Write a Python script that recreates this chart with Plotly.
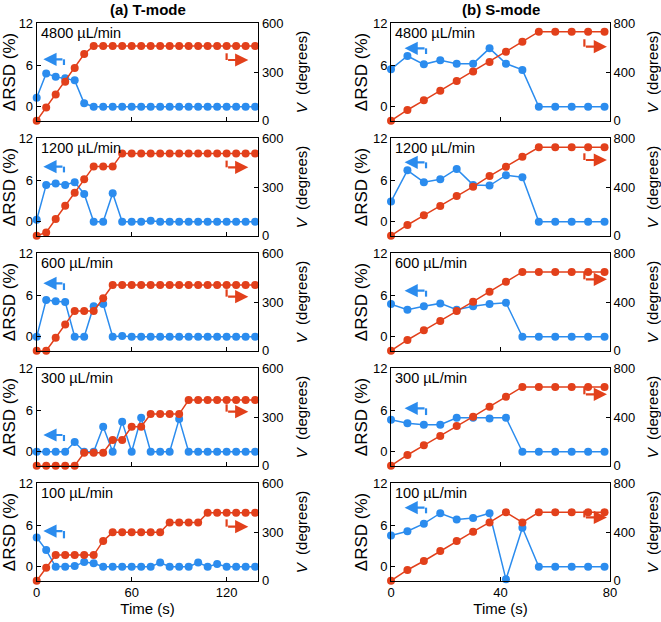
import plotly.graph_objects as go

# ---------------- data ----------------
T_TIME = [0, 6, 12, 18, 24, 30, 36, 42, 48, 54, 60, 66, 72, 78, 84, 90, 96, 102, 108, 114, 120, 126, 132, 138]
S_TIME = [0, 6, 12, 18, 24, 30, 36, 42, 48, 54, 60, 66, 72, 78]

FLOW_LABELS = ["4800 µL/min", "1200 µL/min", "600 µL/min", "300 µL/min", "100 µL/min"]

# T-mode
T4800_RSD = [1.3, 4.8, 4.3, 4.1, 3.8, 0.5, 0, 0, 0, 0, 0, 0, 0, 0, 0, 0, 0, 0, 0, 0, 0, 0, 0, 0]
T4800_V = [0, 82, 162, 240, 325, 411, 460, 460, 460, 460, 460, 460, 460, 460, 460, 460, 460, 460, 460, 460, 460, 460, 460, 460]
T1200_RSD = [0.3, 5.3, 5.5, 5.3, 5.7, 4.0, 0, 0, 4.1, 0, 0, 0, 0.15, 0, 0, 0, 0, 0, 0, 0, 0, 0, 0, 0]
T1200_V = [0, 20, 103, 185, 265, 347, 427, 427, 427, 507, 507, 507, 507, 507, 507, 507, 507, 507, 507, 507, 507, 507, 507, 507]
T600_RSD = [0, 5.3, 5.1, 5.0, 0, 0, 4.4, 4.7, 0, 0.1, 0, 0, 0, 0, 0, 0, 0, 0, 0, 0, 0, 0, 0, 0]
T600_V = [0, 0, 80, 162, 245, 245, 245, 323, 405, 405, 405, 405, 405, 405, 405, 405, 405, 405, 405, 405, 405, 405, 405, 405]
T300_RSD = [0, 0, 0, 0, 1.4, 0, 0, 3.6, 0, 4.3, 0, 4.9, 0, 0, 0, 4.7, 0, 0, 0, 0, 0, 0, 0, 0]
T300_V = [0, 0, 0, 0, 0, 80, 80, 80, 158, 158, 240, 240, 318, 318, 318, 318, 405, 405, 405, 405, 405, 405, 405, 405]
T100_RSD = [4.2, 2.4, 0, 0, 0.1, 0.7, 0.5, 0, 0, 0, 0, 0, 0, 0.6, 0, 0, 0, 0.6, 0, 0.4, 0, 0, 0, 0]
T100_V = [0, 80, 158, 158, 158, 158, 158, 245, 298, 298, 298, 298, 298, 298, 358, 358, 358, 358, 419, 419, 419, 419, 419, 419]

# S-mode
S4800_RSD = [5.4, 7.3, 6.1, 6.7, 6.2, 6.2, 8.4, 6.2, 5.3, 0, 0, 0, 0, 0]
S4800_V = [0, 88, 167, 247, 326, 405, 482, 567, 649, 731, 731, 731, 731, 731]
S1200_RSD = [2.9, 7.4, 5.7, 6.1, 7.6, 5.3, 5.2, 6.7, 6.4, 0, 0, 0, 0, 0]
S1200_V = [0, 88, 167, 244, 326, 403, 490, 567, 649, 726, 726, 726, 726, 726]
S600_RSD = [4.7, 3.9, 4.4, 4.8, 3.9, 4.4, 4.7, 4.9, 0, 0, 0, 0, 0, 0]
S600_V = [0, 88, 167, 244, 326, 403, 485, 567, 647, 647, 647, 647, 647, 647]
S300_RSD = [4.6, 4.1, 3.9, 3.9, 4.9, 4.9, 4.8, 4.9, 0, 0, 0, 0, 0, 0]
S300_V = [0, 88, 167, 244, 326, 403, 485, 567, 647, 647, 647, 647, 647, 647]
S100_RSD = [4.5, 5.1, 6.2, 7.7, 6.8, 7.0, 7.7, -1.8, 5.6, 0, 0, 0, 0, 0]
S100_V = [0, 88, 162, 244, 326, 403, 479, 562, 479, 562, 562, 562, 562, 562]

T_RSD = [T4800_RSD, T1200_RSD, T600_RSD, T300_RSD, T100_RSD]
T_V = [T4800_V, T1200_V, T600_V, T300_V, T100_V]
S_RSD = [S4800_RSD, S1200_RSD, S600_RSD, S300_RSD, S100_RSD]
S_V = [S4800_V, S1200_V, S600_V, S300_V, S100_V]

T_XTICKS = [0, 60, 120]
S_XTICKS = [0, 40, 80]
RSD_TICKS = [0, 6, 12]
T_VTICKS = [0, 300, 600]
S_VTICKS = [0, 400, 800]

# ---------------- style / layout ----------------
W, H = 661, 622
BLUE = "#2b8cee"
RED = "#e2401b"
FONT = "Liberation Sans, Arial, sans-serif"

ROW_TOPS = [23.3, 138.3, 253.3, 368.3, 483.3]
PH = 97.4
COLS = [(36.7, 258.3), (391.0, 610.0)]

# arrow positions in axis-domain fractions: (blue_y, blue_hook_y, red_top_y, red_y)
T_ARROWS = [(0.63, 0.572, 0.692, 0.623), (0.709, 0.65, 0.771, 0.702), (0.692, 0.623, 0.63, 0.555),
            (0.315, 0.253, 0.63, 0.555), (0.51, 0.435, 0.63, 0.555)]
S_ARROWS = [(0.743, 0.685, 0.836, 0.76), (0.753, 0.692, 0.846, 0.777), (0.616, 0.555, 0.81, 0.733),
            (0.589, 0.52, 0.81, 0.733), (0.75, 0.692, 0.72, 0.65)]

fig = go.Figure()
layout = dict(width=W, height=H, margin=dict(l=0, r=0, t=0, b=0, autoexpand=False),
              paper_bgcolor="white", plot_bgcolor="white", showlegend=False,
              font=dict(family=FONT, size=12, color="black"))
annotations = []
shapes = []

for c in range(2):
    times = T_TIME if c == 0 else S_TIME
    rsd_all = T_RSD if c == 0 else S_RSD
    v_all = T_V if c == 0 else S_V
    xticks = T_XTICKS if c == 0 else S_XTICKS
    vticks = T_VTICKS if c == 0 else S_VTICKS
    xmax = 140 if c == 0 else 80
    arrows = T_ARROWS if c == 0 else S_ARROWS
    x0px, x1px = COLS[c]
    for r in range(5):
        k = c * 5 + r + 1
        xid = "x" if k == 1 else f"x{k}"
        yid = "y" if k == 1 else f"y{k}"
        y2id = f"y{k + 10}"
        xkey = "xaxis" if k == 1 else f"xaxis{k}"
        ykey = "yaxis" if k == 1 else f"yaxis{k}"
        y2key = f"yaxis{k + 10}"
        top = ROW_TOPS[r]
        bot = top + PH
        ydom = [1 - bot / H, 1 - top / H]
        xdom = [x0px / W, x1px / W]

        fig.add_trace(go.Scatter(x=times, y=rsd_all[r], xaxis=xid, yaxis=yid, mode="lines+markers",
                                 line=dict(color=BLUE, width=1.5), marker=dict(color=BLUE, size=8),
                                 cliponaxis=False))
        fig.add_trace(go.Scatter(x=times, y=v_all[r], xaxis=xid, yaxis=y2id, mode="lines+markers",
                                 line=dict(color=RED, width=1.5), marker=dict(color=RED, size=8),
                                 cliponaxis=False))

        bottom = (r == 4)
        layout[xkey] = dict(domain=xdom, anchor=yid, range=[0, xmax], tickvals=xticks,
                            showticklabels=bottom, showline=True, mirror=True, linecolor="black",
                            linewidth=1, ticks="inside", ticklen=4, tickcolor="black",
                            showgrid=False, zeroline=False, automargin=False,
                            tickfont=dict(size=13),
                            title=dict(text="Time (s)" if bottom else "", font=dict(size=15), standoff=3))
        layout[ykey] = dict(domain=ydom, anchor=xid, range=[-2, 12], tickvals=RSD_TICKS,
                            showline=True, linecolor="black", linewidth=1, ticks="inside",
                            ticklen=4, tickcolor="black", showgrid=False, zeroline=False,
                            automargin=False, tickfont=dict(size=13),
                            title=dict(text="ΔRSD (%)", font=dict(size=17), standoff=0))
        layout[y2key] = dict(domain=ydom, anchor=xid, overlaying=yid, side="right", range=[0, 800 if c else 600],
                             tickvals=vticks, showline=True, linecolor="black", linewidth=1,
                             ticks="inside", ticklen=4, tickcolor="black", showgrid=False,
                             zeroline=False, automargin=False, tickfont=dict(size=13),
                             title=dict(text="<i>V</i>\u00a0\u00a0(degrees)", font=dict(size=15), standoff=13))

        xd = f"{xid} domain"
        yd = f"{yid} domain"
        annotations.append(dict(xref=xd, yref=yd, x=0.01, y=0.9, text=FLOW_LABELS[r], showarrow=False,
                                xanchor="left", yanchor="middle", font=dict(size=14.5)))
        by, bhy, rty, ry = arrows[r]
        bx0, bx1 = (0.03, 0.123) if c == 0 else (0.062, 0.16)
        rx0, rx1 = (0.857, 0.955) if c == 0 else (0.883, 0.986)
        plot_w = x1px - x0px
        annotations.append(dict(xref=xd, yref=yd, x=bx0, y=by, ax=(bx1 - bx0) * plot_w, ay=0,
                                text="", showarrow=True, arrowhead=2, arrowsize=1.2, arrowwidth=2.2,
                                arrowcolor=BLUE, standoff=0, startstandoff=0))
        shapes.append(dict(type="line", xref=xd, yref=yd, x0=bx1, x1=bx1, y0=by, y1=bhy,
                           line=dict(color=BLUE, width=2.2)))
        annotations.append(dict(xref=xd, yref=yd, x=rx1, y=ry, ax=-(rx1 - rx0) * plot_w, ay=0,
                                text="", showarrow=True, arrowhead=2, arrowsize=1.2, arrowwidth=2.2,
                                arrowcolor=RED, standoff=0, startstandoff=0))
        shapes.append(dict(type="line", xref=xd, yref=yd, x0=rx0, x1=rx0, y0=ry, y1=rty,
                           line=dict(color=RED, width=2.2)))

annotations.append(dict(xref="paper", yref="paper", x=(COLS[0][0] + COLS[0][1]) / 2 / W, y=1 - 10 / H,
                        text="<b>(a) T-mode</b>", showarrow=False, xanchor="center", yanchor="middle",
                        font=dict(size=15)))
annotations.append(dict(xref="paper", yref="paper", x=(COLS[1][0] + COLS[1][1]) / 2 / W, y=1 - 10 / H,
                        text="<b>(b) S-mode</b>", showarrow=False, xanchor="center", yanchor="middle",
                        font=dict(size=15)))

layout["annotations"] = annotations
layout["shapes"] = shapes
fig.update_layout(**layout)
fig.write_html("out.html", config={"displayModeBar": False},
               post_script="document.body.style.margin='0';document.body.style.overflow='hidden';")
